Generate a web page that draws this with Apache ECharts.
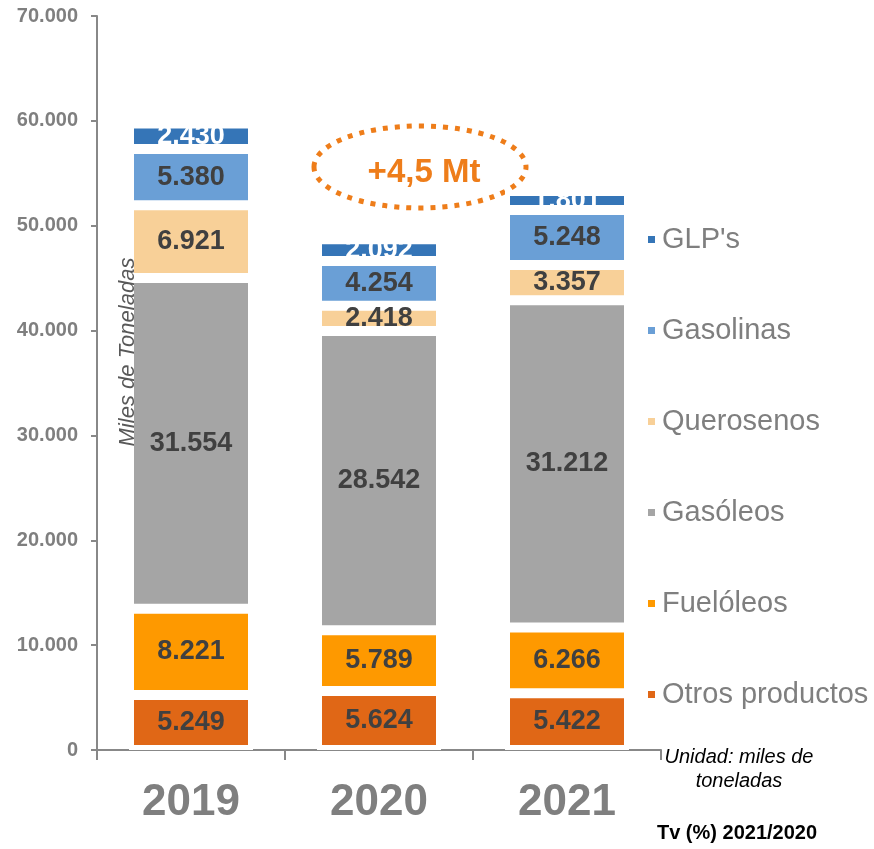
<!DOCTYPE html>
<html>
<head>
<meta charset="utf-8">
<script src="https://cdn.jsdelivr.net/npm/echarts@6/dist/echarts.min.js"></script>
<style>
  html, body { margin: 0; padding: 0; background: #fff; }
  #chart { width: 874px; height: 849px; }
</style>
</head>
<body>
<div id="chart"></div>
<script>
// Datos (miles de toneladas)
const years = ['2019', '2020', '2021'];
const otros = [5249, 5624, 5422];
const fueloleos = [8221, 5789, 6266];
const gasoleos = [31554, 28542, 31212];
const querosenos = [6921, 2418, 3357];
const gasolinas = [5380, 4254, 5248];
const glps = [2430, 2092, 1801];
const legendOrder = ["GLP's", 'Gasolinas', 'Querosenos', 'Gasóleos', 'Fuelóleos', 'Otros productos'];

// Separador de miles con punto
function fmt(v) {
  return String(v).replace(/\B(?=(\d{3})+(?!\d))/g, '.');
}

function serie(name, data, color, labelColor) {
  return {
    name: name,
    type: 'bar',
    stack: 'total',
    barWidth: 124,
    data: data,
    itemStyle: { color: color, borderColor: '#fff', borderWidth: 5 },
    label: {
      show: true,
      position: 'inside',
      formatter: (p) => fmt(p.value),
      fontFamily: 'Liberation Sans, Arial, sans-serif',
      fontWeight: 'bold',
      fontSize: 27,
      color: labelColor || '#404040'
    },
    emphasis: { disabled: true }
  };
}

const chart = echarts.init(document.getElementById('chart'));

const option = {
  animation: false,
  textStyle: { fontFamily: 'Liberation Sans, Arial, sans-serif' },
  grid: { left: 97, right: 213, top: 16, bottom: 99 },
  legend: {
    orient: 'vertical',
    left: 641,
    top: 220,
    data: legendOrder,
    itemWidth: 9,
    itemHeight: 9,
    itemGap: 62,
    icon: 'rect',
    selectedMode: false,
    textStyle: { fontSize: 29, color: '#7f7f7f', padding: [0, 0, 0, 1] }
  },
  xAxis: {
    type: 'category',
    data: years,
    axisLine: { lineStyle: { color: '#888', width: 2 } },
    axisTick: { show: true, length: 10, lineStyle: { color: '#888', width: 2 } },
    axisLabel: { fontSize: 44, fontWeight: 'bold', color: '#7f7f7f', margin: 31 }
  },
  yAxis: {
    type: 'value',
    min: 0,
    max: 70000,
    interval: 10000,
    splitLine: { show: false },
    axisLine: { show: true, lineStyle: { color: '#888', width: 2 } },
    axisTick: { show: true, length: 6, lineStyle: { color: '#888', width: 2 } },
    axisLabel: {
      formatter: (v) => fmt(v),
      fontSize: 20,
      fontWeight: 'bold',
      color: '#7f7f7f',
      margin: 19
    }
  },
  series: [
    serie('Otros productos', otros, '#e06716'),
    serie('Fuelóleos', fueloleos, '#fe9900'),
    serie('Gasóleos', gasoleos, '#a5a5a5'),
    serie('Querosenos', querosenos, '#f8d098'),
    serie('Gasolinas', gasolinas, '#6a9fd6'),
    serie("GLP's", glps, '#3575b7', '#fff')
  ],
  graphic: [
    {
      type: 'text',
      rotation: Math.PI / 2,
      x: 117,
      y: 352,
      z: 10,
      style: {
        text: 'Miles de Toneladas',
        fontSize: 22,
        fontStyle: 'italic',
        fill: '#595959',
        align: 'center',
        verticalAlign: 'top'
      }
    },
    {
      type: 'ellipse',
      shape: { cx: 420, cy: 167, rx: 106, ry: 41 },
      style: { fill: 'none', stroke: '#ee7d1a', lineWidth: 5, lineDash: [5, 7] }
    },
    {
      type: 'text',
      x: 424,
      y: 173,
      style: {
        text: '+4,5 Mt',
        fontSize: 33,
        fontWeight: 'bold',
        fill: '#ee7d1a',
        align: 'center',
        verticalAlign: 'middle'
      }
    },
    {
      type: 'text',
      x: 739,
      y: 769,
      style: {
        text: 'Unidad: miles de\ntoneladas',
        fontSize: 20,
        fontStyle: 'italic',
        lineHeight: 24,
        fill: '#000',
        align: 'center',
        verticalAlign: 'middle'
      }
    },
    {
      type: 'text',
      x: 737,
      y: 833,
      style: {
        text: 'Tv (%) 2021/2020',
        fontSize: 20,
        fontWeight: 'bold',
        fill: '#000',
        align: 'center',
        verticalAlign: 'middle'
      }
    }
  ]
};

chart.setOption(option);
</script>
</body>
</html>
